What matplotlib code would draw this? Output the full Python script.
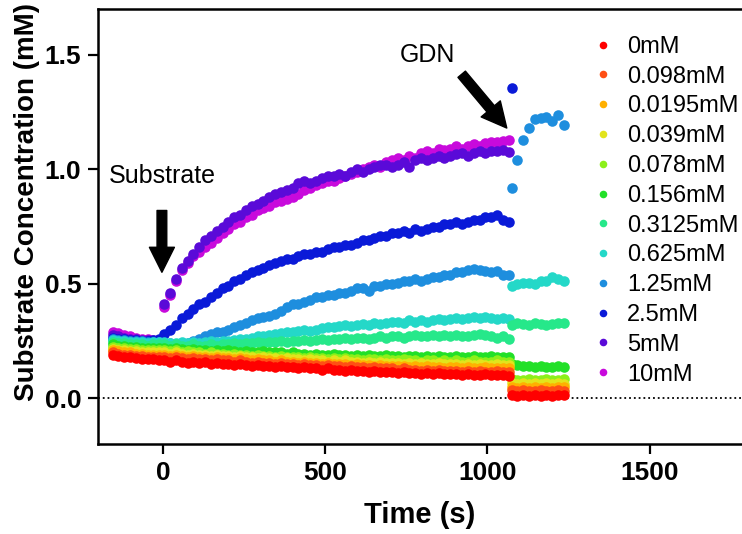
import matplotlib
matplotlib.use("Agg")
import matplotlib.pyplot as plt

plt.rcParams['font.family'] = ['Liberation Sans', 'DejaVu Sans']

# sampling times (s)
t_pre = [-155, -137, -119, -101, -83, -65, -47, -29, -11]
t_main = list(range(4, 1067, 18))
t_post = [1075, 1093, 1110, 1128, 1147, 1165, 1182, 1200, 1217, 1236]

labels = ['0mM', '0.098mM', '0.0195mM', '0.039mM', '0.078mM', '0.156mM',
          '0.3125mM', '0.625mM', '1.25mM', '2.5mM', '5mM', '10mM']
colors = ['#ff0000', '#ff4f14', '#ffb000', '#e2e41c', '#8cf01a', '#22e028',
          '#26e88a', '#24d8c8', '#1e8ede', '#0a1ad8', '#5a0ad8', '#c80adc']

pre_0 = [.19, .185, .18, .18, .175, .17, .17, .17, .165]
main_0 = [.165, .16, .165, .16, .155, .16, .155, .16, .15, .155,
          .15, .15, .145, .15, .145, .14, .145, .14, .14, .135,
          .14, .135, .135, .13, .135, .13, .13, .125, .13, .125,
          .125, .12, .125, .12, .12, .115, .12, .115, .115, .115,
          .11, .115, .11, .11, .105, .11, .105, .11, .105, .105,
          .105, .10, .105, .10, .10, .105, .10, .10, .10, .097]
post_0 = [.015, .01, .015, .01, .015, .01, .015, .01, .015, .015]

pre_0098 = [.20, .195, .19, .19, .185, .185, .18, .18, .18]
main_0098 = [.18, .175, .18, .175, .17, .175, .17, .17, .165, .17,
             .165, .165, .16, .165, .16, .155, .16, .155, .155, .15,
             .155, .15, .15, .145, .15, .145, .145, .14, .145, .14,
             .14, .135, .14, .135, .135, .13, .135, .13, .13, .13,
             .125, .13, .125, .125, .12, .125, .12, .125, .12, .12,
             .12, .115, .12, .115, .12, .115, .115, .12, .115, .115]
post_0098 = [.035, .03, .035, .03, .03, .035, .03, .03, .035, .03]

pre_00195 = [.21, .205, .20, .20, .195, .195, .19, .19, .19]
main_00195 = [.19, .185, .19, .185, .18, .185, .18, .18, .175, .18,
              .175, .175, .17, .175, .17, .165, .17, .165, .165, .16,
              .165, .16, .16, .155, .16, .155, .155, .15, .155, .15,
              .15, .15, .145, .15, .145, .145, .14, .145, .14, .14,
              .14, .14, .135, .14, .135, .14, .135, .135, .13, .135,
              .135, .13, .135, .13, .13, .135, .13, .13, .13, .13]
post_00195 = [.05, .045, .05, .045, .05, .045, .05, .045, .05, .05]

pre_0039 = [.215, .21, .21, .205, .205, .20, .20, .20, .20]
main_0039 = [.20, .195, .20, .195, .19, .195, .19, .19, .185, .19,
             .185, .185, .18, .185, .18, .18, .175, .18, .175, .175,
             .17, .175, .17, .17, .165, .17, .165, .165, .16, .165,
             .16, .165, .16, .16, .155, .16, .155, .16, .155, .155,
             .155, .15, .155, .15, .155, .15, .15, .155, .15, .15,
             .15, .145, .15, .145, .15, .145, .145, .15, .145, .145]
post_0039 = [.065, .06, .065, .06, .065, .06, .065, .06, .065, .06]

pre_0078 = [.225, .22, .22, .215, .215, .21, .21, .21, .21]
main_0078 = [.21, .205, .21, .20, .205, .20, .20, .195, .20, .195,
             .195, .19, .195, .19, .19, .185, .19, .185, .185, .18,
             .185, .18, .18, .18, .175, .18, .175, .175, .17, .175,
             .17, .175, .17, .17, .165, .17, .17, .165, .17, .165,
             .165, .17, .165, .165, .16, .165, .165, .16, .165, .16,
             .165, .16, .16, .165, .16, .16, .16, .165, .16, .16]
post_0078 = [.085, .08, .08, .085, .08, .08, .085, .08, .08, .085]

pre_0156 = [.235, .23, .23, .225, .225, .22, .22, .22, .22]
main_0156 = [.22, .215, .22, .215, .21, .215, .21, .21, .205, .21,
             .205, .21, .205, .20, .205, .20, .20, .205, .20, .20,
             .20, .195, .20, .195, .195, .19, .195, .19, .19, .195,
             .19, .19, .185, .19, .185, .19, .185, .185, .19, .185,
             .185, .18, .185, .185, .18, .185, .18, .185, .18, .18,
             .185, .18, .18, .185, .18, .18, .185, .18, .18, .18]
post_0156 = [.15, .145, .14, .14, .135, .14, .135, .135, .14, .135]

pre_03125 = [.245, .24, .24, .235, .235, .235, .23, .235, .235]
main_03125 = [.235, .23, .235, .23, .23, .235, .23, .23, .235, .23,
              .235, .235, .24, .235, .24, .24, .245, .24, .245, .245,
              .25, .245, .25, .25, .255, .25, .255, .26, .255, .26,
              .26, .265, .26, .265, .265, .26, .265, .27, .265, .27,
              .27, .265, .27, .275, .27, .27, .275, .27, .275, .27,
              .275, .27, .27, .275, .28, .275, .27, .265, .27, .26]
post_03125 = [.32, .33, .325, .32, .33, .325, .32, .325, .33, .33]

pre_0625 = [.255, .25, .25, .245, .245, .245, .24, .245, .245]
main_0625 = [.245, .24, .24, .245, .24, .245, .24, .245, .25, .245,
             .25, .25, .255, .26, .26, .265, .27, .27, .275, .28,
             .285, .29, .29, .295, .30, .295, .30, .305, .31, .31,
             .315, .32, .315, .32, .325, .32, .33, .325, .33, .335,
             .335, .33, .34, .335, .34, .335, .34, .345, .34, .345,
             .35, .345, .35, .355, .35, .355, .35, .345, .35, .345]
post_0625 = [.49, .50, .505, .505, .50, .51, .51, .53, .52, .51]

pre_125 = [.26, .255, .255, .25, .25, .25, .245, .245, .245]
main_125 = [.24, .24, .235, .235, .24, .25, .26, .27, .28, .29,
            .29, .30, .31, .32, .33, .34, .35, .355, .36, .37,
            .38, .40, .41, .41, .42, .43, .44, .44, .45, .45,
            .46, .46, .47, .48, .48, .47, .49, .49, .50, .50,
            .505, .51, .51, .52, .51, .52, .53, .53, .54, .54,
            .55, .55, .56, .565, .56, .555, .55, .555, .54, .54]
post_125 = [.92, 1.04, 1.13, 1.18, 1.22, 1.225, 1.23, 1.21, 1.235, 1.195]

pre_25 = [.265, .26, .26, .255, .255, .25, .25, .255, .26]
main_25 = [.28, .30, .32, .35, .37, .39, .41, .42, .44, .46,
           .48, .49, .51, .52, .54, .55, .56, .57, .58, .59,
           .60, .61, .61, .62, .63, .63, .64, .64, .65, .66,
           .66, .67, .67, .68, .69, .69, .70, .71, .71, .72,
           .72, .73, .72, .74, .73, .74, .75, .75, .76, .76,
           .77, .76, .77, .78, .78, .79, .79, .80, .78, .77]
post_25 = [1.355]

pre_5 = [.275, .27, .265, .26, .26, .255, .255, .25, .25]
main_5 = [.41, .46, .52, .57, .60, .63, .66, .69, .71, .73,
          .75, .77, .79, .80, .82, .84, .85, .86, .88, .89,
          .90, .91, .92, .94, .95, .94, .95, .96, .97, .97,
          .98, .97, .99, 1.00, .99, 1.00, 1.01, 1.02, 1.02, 1.01,
          1.02, 1.03, 1.01, 1.04, 1.05, 1.04, 1.05, 1.06, 1.05, 1.06,
          1.065, 1.07, 1.06, 1.07, 1.08, 1.07, 1.08, 1.08, 1.085, 1.075]

pre_10 = [.29, .285, .275, .27, .265, .26, .26, .255, .255]
main_10 = [.40, .45, .51, .56, .59, .62, .64, .66, .68, .70,
           .72, .74, .76, .77, .79, .80, .82, .83, .84, .855,
           .86, .87, .88, .89, .91, .92, .93, .94, .95, .95,
           .96, .97, .98, .99, 1.00, 1.01, 1.02, 1.01, 1.03, 1.04,
           1.05, 1.04, 1.06, 1.05, 1.07, 1.08, 1.07, 1.09, 1.085, 1.09,
           1.10, 1.09, 1.10, 1.11, 1.10, 1.115, 1.12, 1.12, 1.125, 1.13]

series = [
    (pre_0, main_0, post_0),
    (pre_0098, main_0098, post_0098),
    (pre_00195, main_00195, post_00195),
    (pre_0039, main_0039, post_0039),
    (pre_0078, main_0078, post_0078),
    (pre_0156, main_0156, post_0156),
    (pre_03125, main_03125, post_03125),
    (pre_0625, main_0625, post_0625),
    (pre_125, main_125, post_125),
    (pre_25, main_25, post_25),
    (pre_5, main_5, []),
    (pre_10, main_10, []),
]

W, H = 742, 534
fig = plt.figure(figsize=(W / 100, H / 100), dpi=100)
ax = fig.add_axes([98 / W, 90 / H, 1 - 98 / W, 435 / H])

ax.axhline(0, color='black', linestyle=':', linewidth=1.3, zorder=1)

n = len(series)
for i, (pre, main, post) in enumerate(series):
    xs = t_pre + t_main + t_post[:len(post)]
    ys = pre + main + post
    ax.plot(xs, ys, linestyle='none', marker='o', markersize=7.6,
            markeredgewidth=0, color=colors[i], label=labels[i],
            zorder=10 + n - i)

ax.set_xlim(-200, 1785)
ax.set_ylim(-0.2, 1.7)
ax.set_xticks([0, 500, 1000, 1500])
ax.set_yticks([0.0, 0.5, 1.0, 1.5])
ax.set_yticklabels(['0.0', '0.5', '1.0', '1.5'])
ax.spines['right'].set_visible(False)
for s in ['left', 'bottom', 'top']:
    ax.spines[s].set_linewidth(1.8)
ax.tick_params(axis='both', direction='out', length=7, width=1.6,
               labelsize=19, pad=5)
for lab in ax.get_xticklabels() + ax.get_yticklabels():
    lab.set_fontweight('bold')

ax.set_xlabel('Time (s)', fontsize=21, fontweight='bold', labelpad=12)
fig.text(27 / W, 1 - 202 / H, 'Substrate Concentration (mM)', rotation=90,
         ha='center', va='center', fontsize=20, fontweight='bold')

ax.annotate('', xy=(-3, 0.55), xytext=(-3, 0.82),
            arrowprops=dict(facecolor='black', edgecolor='black', width=7,
                            headwidth=18, headlength=18))
ax.text(-168, 0.97, 'Substrate', fontsize=18, ha='left', va='center')
ax.annotate('', xy=(1060, 1.18), xytext=(921, 1.415),
            arrowprops=dict(facecolor='black', edgecolor='black', width=7,
                            headwidth=18, headlength=18))
ax.text(815, 1.5, 'GDN', fontsize=18, ha='center', va='center')

ax.legend(loc='upper left', bbox_to_anchor=(582 / W, 1 - 24 / H),
          bbox_transform=fig.transFigure, frameon=False, fontsize=17,
          handlelength=0.8, handletextpad=0.6, labelspacing=0.33,
          borderpad=0, markerscale=0.72)

fig.savefig('out.png', dpi=100)
